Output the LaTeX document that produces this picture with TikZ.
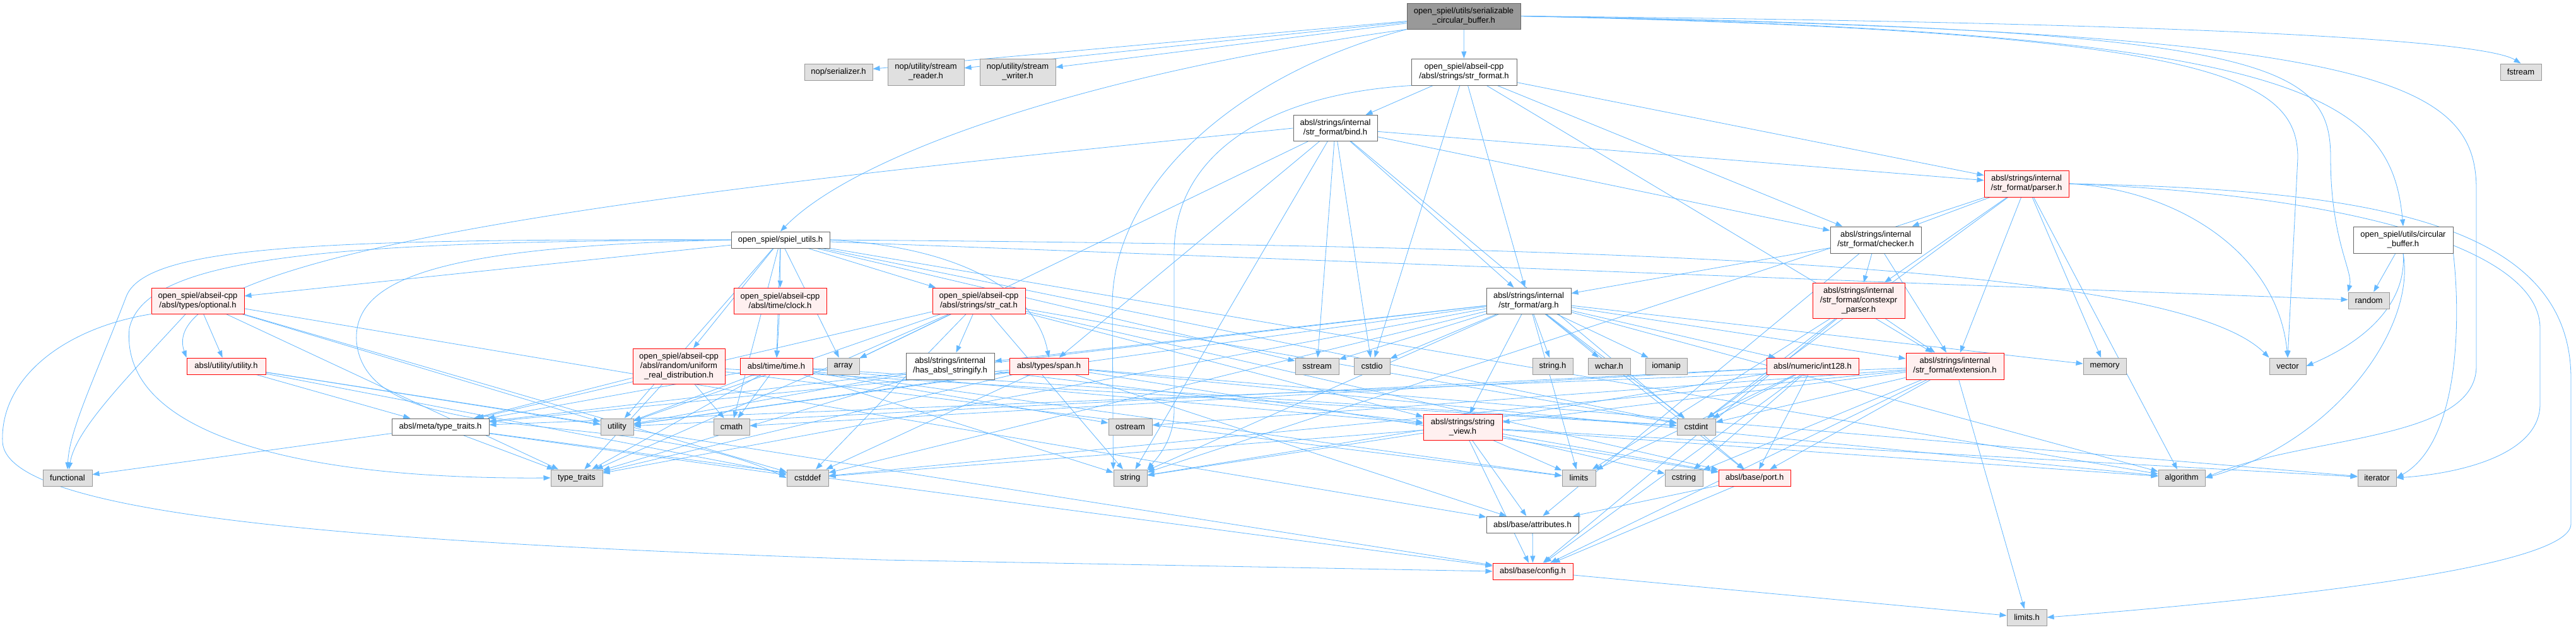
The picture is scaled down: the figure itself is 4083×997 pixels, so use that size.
\documentclass[tikz,border=0pt]{standalone}
\usepackage{fontspec}
\setmainfont{Liberation Sans}
\usetikzlibrary{arrows.meta,backgrounds}
\definecolor{edgec}{HTML}{63B8FF}
\definecolor{gfill}{HTML}{E0E0E0}
\definecolor{gdraw}{HTML}{999999}
\definecolor{rfill}{HTML}{FFF0F0}
\definecolor{wdraw}{HTML}{666666}
\definecolor{mfill}{HTML}{999999}
\newcommand\nd[7]{\node[#2,minimum width=#5pt,minimum height=#6pt] (#1) at (#3,#4) {#7};}
\begin{document}
\begin{tikzpicture}[x=1pt,y=-1pt,
 nb/.style={line width=1pt, inner sep=0pt, align=center, font=\fontsize{13}{15}\selectfont},
 gr/.style={nb, draw=gdraw, fill=gfill},
 wh/.style={nb, draw=wdraw, fill=white},
 rd/.style={nb, draw=red, fill=rfill},
 mn/.style={nb, draw=wdraw, fill=mfill},
 edge/.style={draw=edgec, line width=0.8pt, -{Triangle[length=11pt,width=8pt]}}]
\useasboundingbox (0,0) rectangle (4083,997);
\nd{main}{mn}{2320}{25.5}{180}{41}{open\_spiel/utils/serializable\\\_circular\_buffer.h}
\nd{ser}{gr}{1329}{114}{108}{26}{nop/serializer.h}
\nd{rdr}{gr}{1467.5}{114}{121}{42}{nop/utility/stream\\\_reader.h}
\nd{wtr}{gr}{1613}{114}{120}{42}{nop/utility/stream\\\_writer.h}
\nd{strformat}{wh}{2320.5}{114}{167}{42}{open\_spiel/abseil-cpp\\/absl/strings/str\_format.h}
\nd{fstream}{gr}{3995.5}{114}{65}{26}{fstream}
\nd{bind}{wh}{2116.5}{203}{133}{41}{absl/strings/internal\\/str\_format/bind.h}
\nd{parser}{rd}{3212}{291}{134}{42}{absl/strings/internal\\/str\_format/parser.h}
\nd{spielutils}{wh}{1237}{380}{156}{26}{open\_spiel/spiel\_utils.h}
\nd{checker}{wh}{2973}{380}{144}{42}{absl/strings/internal\\/str\_format/checker.h}
\nd{circbuf}{wh}{3809}{380}{158}{42}{open\_spiel/utils/circular\\\_buffer.h}
\nd{optional}{rd}{313.5}{476.5}{147}{41}{open\_spiel/abseil-cpp\\/absl/types/optional.h}
\nd{clock}{rd}{1236.5}{476.5}{147}{41}{open\_spiel/abseil-cpp\\/absl/time/clock.h}
\nd{strcat}{rd}{1551.5}{476.5}{147}{41}{open\_spiel/abseil-cpp\\/absl/strings/str\_cat.h}
\nd{arg}{wh}{2423}{476.5}{134}{41}{absl/strings/internal\\/str\_format/arg.h}
\nd{constexpr}{rd}{2946}{476}{146}{56}{absl/strings/internal\\/str\_format/constexpr\\\_parser.h}
\nd{random}{gr}{3754.5}{476}{65}{26}{random}
\nd{utilityh}{rd}{358.5}{580}{125}{26}{absl/utility/utility.h}
\nd{uniform}{rd}{1076}{580}{146}{56}{open\_spiel/abseil-cpp\\/absl/random/uniform\\\_real\_distribution.h}
\nd{timeh}{rd}{1230.5}{580}{115}{26}{absl/time/time.h}
\nd{array}{gr}{1336.5}{580}{51}{26}{array}
\nd{hasstr}{wh}{1506}{580}{140}{42}{absl/strings/internal\\/has\_absl\_stringify.h}
\nd{span}{rd}{1662.5}{580}{125}{26}{absl/types/span.h}
\nd{sstream}{gr}{2087.5}{580}{69}{26}{sstream}
\nd{cstdio}{gr}{2174.5}{580}{57}{26}{cstdio}
\nd{stringh}{gr}{2461}{580}{64}{26}{string.h}
\nd{wchar}{gr}{2550.5}{580}{67}{26}{wchar.h}
\nd{iomanip}{gr}{2641}{580}{66}{26}{iomanip}
\nd{int128}{rd}{2873}{580}{146}{26}{absl/numeric/int128.h}
\nd{extension}{rd}{3098.5}{580}{155}{42}{absl/strings/internal\\/str\_format/extension.h}
\nd{memory}{gr}{3336}{580}{68}{26}{memory}
\nd{vector}{gr}{3626}{580}{58}{26}{vector}
\nd{metatt}{wh}{698}{676}{154}{26}{absl/meta/type\_traits.h}
\nd{utility}{gr}{978}{676}{52}{26}{utility}
\nd{cmath}{gr}{1159.5}{676}{57}{26}{cmath}
\nd{ostream}{gr}{1791.5}{676}{69}{26}{ostream}
\nd{strview}{rd}{2318.5}{676.5}{125}{41}{absl/strings/string\\\_view.h}
\nd{cstdint}{gr}{2688.5}{676}{61}{26}{cstdint}
\nd{functional}{gr}{107}{757}{78}{26}{functional}
\nd{typetraits}{gr}{914}{757}{82}{26}{type\_traits}
\nd{cstddef}{gr}{1280}{757}{66}{26}{cstddef}
\nd{string}{gr}{1791.5}{757}{53}{26}{string}
\nd{limits}{gr}{2502.5}{757}{53}{26}{limits}
\nd{cstring}{gr}{2669}{757}{60}{26}{cstring}
\nd{port}{rd}{2781}{757}{114}{26}{absl/base/port.h}
\nd{algorithm}{gr}{3458}{757}{74}{26}{algorithm}
\nd{iterator}{gr}{3767.5}{757}{61}{26}{iterator}
\nd{attributes}{wh}{2429}{831}{146}{26}{absl/base/attributes.h}
\nd{config}{rd}{2429.5}{905}{127}{26}{absl/base/config.h}
\nd{limitsh}{gr}{3212.5}{978}{63}{26}{limits.h}
\begin{scope}[on background layer]
\fill[white] (0,0) rectangle (4083,997);
\foreach \t in {ser,rdr,wtr,strformat} \draw[edge] (main) -- (\t);
\draw[edge] (main.south west) .. controls (1700,120) and (1350,250) .. (spielutils.north);
\draw[edge] (main.south west) .. controls (1950,120) and (1765,300) .. (1763,480) -- (string.north west);
\draw[edge] (main.east) .. controls (3400,35) and (3930,60) .. (fstream.north);
\draw[edge] (main.east) .. controls (3650,50) and (3790,150) .. (circbuf.north);
\draw[edge] (main.east) .. controls (3600,45) and (3694,100) .. (3694,250) .. controls (3694,380) and (3730,430) .. (random.north west);
\draw[edge] (main.east) .. controls (3500,50) and (3642,120) .. (3642,250) -- (vector.north);
\draw[edge] (main.east) .. controls (3750,50) and (3925,120) .. (3925,300) -- (3925,580) .. controls (3925,700) and (3650,690) .. (algorithm.east);
\foreach \t in {bind,arg,checker,parser,extension,cstdio} \draw[edge] (strformat) -- (\t);
\draw[edge] (strformat.south west) .. controls (2000,150) and (1861,250) .. (1861,400) -- (1861,650) .. controls (1861,700) and (1830,730) .. (string.north east);
\draw[edge] (bind.west) .. controls (1300,280) and (230,380) .. (utilityh.north west);
\foreach \t in {array,sstream,cstdio,string,arg,checker,parser,span,port} \draw[edge] (bind) -- (\t);
\foreach \t in {checker,constexpr,extension,memory,algorithm,cstdint,string} \draw[edge] (parser) -- (\t);
\draw[edge] (parser.east) .. controls (3450,300) and (3610,400) .. (vector.north);
\draw[edge] (parser.east) .. controls (3750,310) and (4026,400) .. (4026,520) -- (4026,640) .. controls (4026,720) and (3900,750) .. (iterator.east);
\draw[edge] (parser.east) .. controls (3750,300) and (4075,350) .. (4075,600) -- (4075,830) .. controls (4075,900) and (3600,950) .. (limitsh.east);
\foreach \t in {optional,clock,strcat,uniform,timeh,array,sstream,utility,cstdint,cmath,random,algorithm} \draw[edge] (spielutils) -- (\t);
\draw[edge] (spielutils.east) .. controls (1500,390) and (1640,450) .. (span.north);
\draw[edge] (spielutils.west) .. controls (500,378) and (230,390) .. (200,470) .. controls (150,600) and (110,680) .. (functional.north);
\draw[edge] (spielutils.west) .. controls (500,382) and (230,410) .. (205,520) .. controls (190,680) and (450,760) .. (typetraits.west);
\draw[edge] (spielutils.west) .. controls (700,390) and (560,440) .. (565,540) .. controls (580,720) and (1000,640) .. (cstddef.west);
\draw[edge] (spielutils.east) .. controls (2600,390) and (3450,420) .. (vector.north west);
\foreach \t in {arg,constexpr,extension,attributes} \draw[edge] (checker) -- (\t);
\foreach \t in {cstdint,extension,limits,config} \draw[edge] (constexpr) -- (\t);
\foreach \t in {sstream,cstdio,stringh,wchar,iomanip,int128,extension,strview,cstdint,hasstr,metatt,utility,typetraits,cstddef,memory,algorithm,limits,port,string} \draw[edge] (arg) -- (\t);
\foreach \t in {limitsh,cstddef,cstring,ostream,config,port,metatt,strview,cstdint} \draw[edge] (extension) -- (\t);
\foreach \t in {cmath,cstdint,cstring,limits,string,utility,config,port} \draw[edge] (int128) -- (\t);
\foreach \t in {string,cstddef,limits,cstring,attributes,config,port,algorithm,iterator} \draw[edge] (strview) -- (\t);
\foreach \t in {utility,typetraits,strview} \draw[edge] (hasstr) -- (\t);
\foreach \t in {algorithm,cstddef,iterator,typetraits,utility,attributes,port,metatt} \draw[edge] (span) -- (\t);
\foreach \t in {cmath,cstdint,limits,ostream,string,typetraits,utility,strview,metatt} \draw[edge] (timeh) -- (\t);
\draw[edge] (clock) -- (timeh);
\foreach \t in {cmath,cstdint,limits,typetraits,metatt} \draw[edge] (uniform) -- (\t);
\foreach \t in {array,cstdint,string,port,hasstr,strview,utility,cstddef,metatt,typetraits} \draw[edge] (strcat) -- (\t);
\foreach \t in {typetraits,utility,attributes,utilityh,cstddef} \draw[edge] (optional) -- (\t);
\draw[edge] (optional.south west) .. controls (100,520) and (0,600) .. (4,700) .. controls (10,820) and (600,860) .. (1400,887) -- (config.west);
\draw[edge] (optional) .. controls (200,600) and (120,680) .. (functional);
\foreach \t in {cstddef,utility,config,metatt} \draw[edge] (utilityh) -- (\t);
\foreach \t in {functional,typetraits,cstddef,config} \draw[edge] (metatt) -- (\t);
\draw[edge] (attributes) -- (config);
\draw[edge] (port) -- (config);
\draw[edge] (port) -- (attributes);
\draw[edge] (config) -- (limitsh);
\draw[edge] (circbuf) -- (random);
\draw[edge] (circbuf.south) .. controls (3815,480) and (3750,540) .. (vector.east);
\draw[edge] (circbuf.south) .. controls (3830,520) and (3700,700) .. (algorithm.east);
\draw[edge] (circbuf.south east) .. controls (3900,500) and (3900,700) .. (iterator.east);
\end{scope}
\end{tikzpicture}
\end{document}
